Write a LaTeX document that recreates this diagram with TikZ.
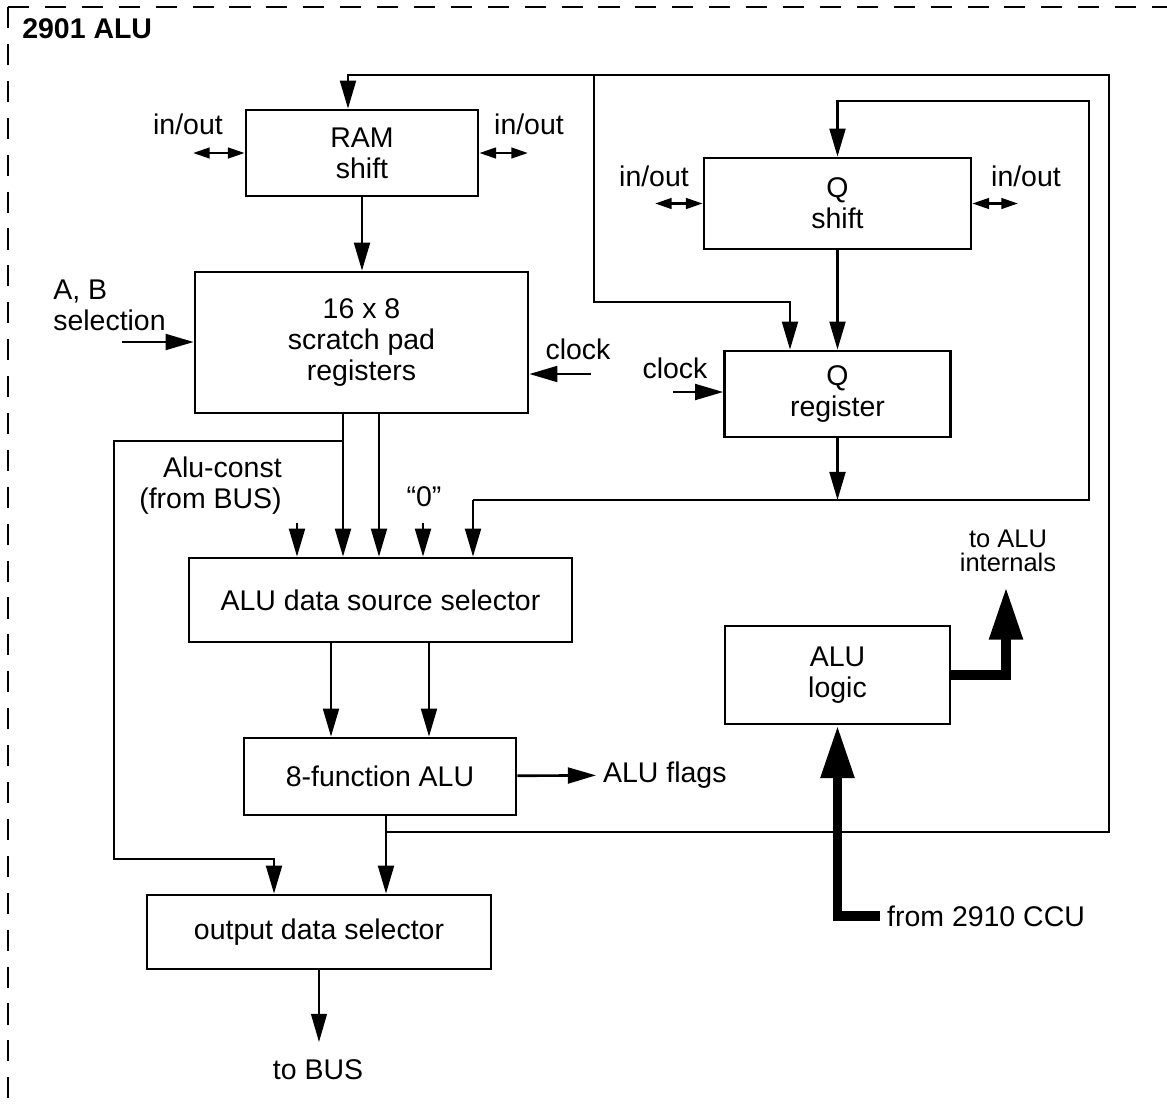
\documentclass[tikz,border=0pt]{standalone}
\usepackage{fontspec}
\setmainfont{Liberation Sans}
\usepackage{tikz}
\usetikzlibrary{arrows.meta,calc}

\begin{document}
\begin{tikzpicture}[x=0.2mm, y=-0.2mm, line width=1.5pt,
  txt/.style={font=\fontsize{16.2}{17.5}\selectfont, align=center},
  blk/.style={draw, txt, inner sep=0pt},
  arr/.style={-{Triangle[length=16pt,width=9pt]}},
  io/.style={{Triangle[length=9.5pt,width=6pt]}-{Triangle[length=9.5pt,width=6pt]}},
  bus/.style={line width=5.5pt, line join=miter, -{Triangle[length=30pt,width=18pt]}},
  chipedge/.style={dash pattern=on 12pt off 9pt}]

\useasboundingbox (0,0) rectangle (1167,1108);

% Chip outline
\draw[chipedge] (8,7) -- (1167,7);
\draw[chipedge] (8,7) -- (8,1108);
\node[font=\fontsize{16.2}{17.5}\selectfont\bfseries, anchor=west, inner sep=0pt]
  (title) at (21,29) {2901 ALU};

% Blocks
\node[blk, minimum width=46.4mm, minimum height=17.2mm] (ram) at (362,153) {RAM\\shift};
\node[blk, minimum width=66.6mm, minimum height=28.2mm] (scratch) at (361.5,342.5) {16 x 8\\scratch pad\\registers};
\node[blk, minimum width=53.4mm, minimum height=18.2mm] (qshift) at (837.5,203.5) {Q\\shift};
\node[blk, minimum width=45.2mm, minimum height=17.2mm] (qreg) at (837.5,394) {Q\\register};
\node[blk, minimum width=76.6mm, minimum height=16.8mm] (alusrc) at (380.5,600) {ALU data source selector};
\node[blk, minimum width=45mm, minimum height=19.6mm] (alulogic) at (837.5,675) {ALU\\logic};
\node[blk, minimum width=54.4mm, minimum height=15.4mm] (alu8) at (380,776.5) {8-function ALU};
\node[blk, minimum width=68.8mm, minimum height=14.8mm] (outsel) at (319,932) {output data selector};

% Labels
\node[txt] (ramlio) at (188,124) {in/out};
\node[txt] (ramrio) at (529,124) {in/out};
\node[txt] (qlio) at (654,176) {in/out};
\node[txt] (qrio) at (1026,176) {in/out};
\node[txt, align=left, anchor=west, inner sep=0pt] (absel) at (52,305) {A, B\\selection};
\node[txt] (sclk) at (578,349) {clock};
\node[txt] (qclk) at (675,368) {clock};
\node[txt, align=right, anchor=east, inner sep=0pt] (aluconst) at (283,486) {Alu-const\\(from BUS)};
\node[txt] (zero) at (424,497) {“0”};
\node[txt, anchor=west] (flags) at (596,775) {ALU flags};
\node[txt] (tobus) at (318,1070) {to BUS};
\node[txt, font=\fontsize{14.5}{13.5}\selectfont] (intl) at (1008,551) {to ALU\\internals};
\node[txt, anchor=west] (ccu) at (880,916) {from 2910 CCU};

% Pins and bends
\coordinate (ramin) at (348,75);
\coordinate (fbR) at (1109,75);
\coordinate (tap) at (594,75);
\coordinate (qin) at (790,302);
\coordinate (fbQ) at (1089,101);
\coordinate (qbus) at (1089,500);
\coordinate (s5) at (473,500);
\coordinate (sa) at (343,441);
\coordinate (sb) at (379,441);
\coordinate (ob) at (114,859);
\coordinate (oin) at (274,859);
\coordinate (kc) at (297,523);
\coordinate (kz) at (423,523);
\coordinate (da) at (331,700);
\coordinate (db) at (429,700);
\coordinate (alout) at (386,832);
\coordinate (busout) at (319,1042);
\coordinate (intlin) at (1006,587);
\coordinate (abin) at (122,342);
\coordinate (sclkin) at (591,374);
\coordinate (qclkin) at (673,392);
\coordinate (rl) at (193,153);
\coordinate (rr) at (528,153);
\coordinate (ql) at (655,203.5);
\coordinate (qr) at (1018,203.5);

% Feedback to RAM and Q
\draw[arr] (alout) -| (fbR) -| (ram.north -| ramin);
\draw[arr] (tap) |- (qin) -- (qin |- qreg.north);
\draw[arr] (s5) -- (qbus) -- (fbQ) -| (qshift.north);
\draw[arr] (qreg) -- (qreg |- qbus);
\draw[arr] (qshift) -- (qreg);
\draw[arr] (ram.south) -- (ram.south |- scratch.north);

% Sources into the selector
\draw[arr] (scratch.south -| sa) -- (sa |- alusrc.north);
\draw[arr] (scratch.south -| sb) -- (sb |- alusrc.north);
\draw[arr] (kc) -- (kc |- alusrc.north);
\draw[arr] (kz) -- (kz |- alusrc.north);
\draw[arr] (s5) -- (s5 |- alusrc.north);
\draw[arr] (sa) -| (ob) -- (oin) -- (oin |- outsel.north);

% ALU and output
\draw[arr] (alusrc.south -| da) -- (da |- alu8.north);
\draw[arr] (alusrc.south -| db) -- (db |- alu8.north);
\draw (alu8.south -| alout) -- (alout);
\draw[arr] (alout) -- (alout |- outsel.north);
\draw[arr] (alu8) -- (flags);
\draw[arr, line width=0.9pt] (outsel.south -| busout) -- (busout);

% Inputs
\draw[arr] (abin) -- (abin -| scratch.west);
\draw[arr] (sclkin) -- (sclkin -| scratch.east);
\draw[arr] (qclkin) -- (qclkin -| qreg.west);
\draw[io] (rl) -- (rl -| ram.west);
\draw[io] (ram.east |- rr) -- (rr);
\draw[io] (ql) -- (ql -| qshift.west);
\draw[io] (qshift.east |- qr) -- (qr);

% Control buses
\draw[bus] (alulogic.east) -| (intlin);
\draw[bus] (ccu.west) -| (alulogic.south);

\end{tikzpicture}
\end{document}
